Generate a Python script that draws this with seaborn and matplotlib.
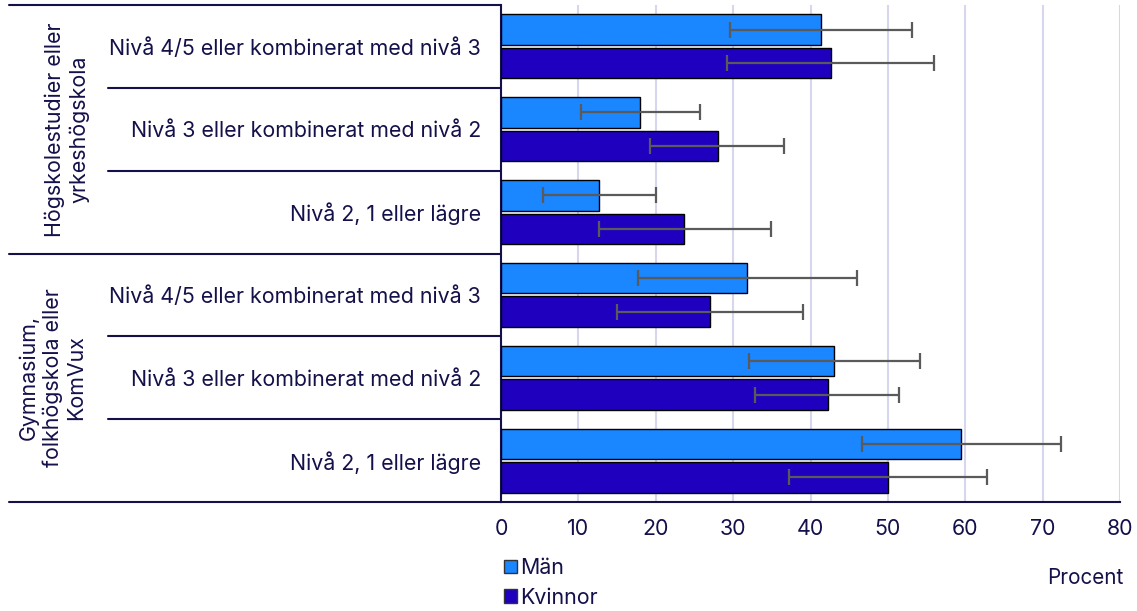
import pandas as pd
import matplotlib.pyplot as plt
import seaborn as sns
from matplotlib.patches import Patch

# Data
grupper = ["Högskolestudier eller\nyrkeshögskola", "Gymnasium,\nfolkhögskola eller\nKomVux"]
nivaer = ["Nivå 4/5 eller kombinerat med nivå 3",
          "Nivå 3 eller kombinerat med nivå 2",
          "Nivå 2, 1 eller lägre"]
kon = ["Män", "Kvinnor"]

man = [41.3, 18.0, 12.7, 31.8, 43.1, 59.4]
man_lo = [29.6, 10.3, 5.4, 17.7, 32.0, 46.7]
man_hi = [53.1, 25.7, 20.0, 46.0, 54.2, 72.4]
kvinnor = [42.6, 28.0, 23.7, 27.0, 42.2, 50.0]
kvinnor_lo = [29.2, 19.3, 12.7, 15.0, 32.8, 37.2]
kvinnor_hi = [56.0, 36.6, 34.9, 39.0, 51.4, 62.8]

xticks = [0, 10, 20, 30, 40, 50, 60, 70, 80]

colors = {"Män": "#1a86ff", "Kvinnor": "#1f00bf"}
navy = "#14104a"
grid_col = "#d6d6ef"
fs = 15.4

rows = [f"{g}|{n}" for g in grupper for n in nivaer]
df = pd.DataFrame({
    "rad": rows * 2,
    "Kön": ["Män"] * 6 + ["Kvinnor"] * 6,
    "Procent": man + kvinnor,
    "lo": man_lo + kvinnor_lo,
    "hi": man_hi + kvinnor_hi,
})

sns.set_theme(style="white")
plt.rcParams["font.family"] = ["Inter", "DejaVu Sans"]
plt.rcParams["text.color"] = navy
plt.rcParams["xtick.color"] = navy
plt.rcParams["ytick.color"] = navy

fig = plt.figure(figsize=(11.37, 6.11), dpi=100)
ax = fig.add_axes([501 / 1137, 1 - 502 / 611, 619 / 1137, 497 / 611])

sns.barplot(data=df, y="rad", x="Procent", hue="Kön", hue_order=kon, order=rows,
            palette=colors, saturation=1, orient="h", width=0.81, gap=0.09,
            edgecolor="black", linewidth=1, legend=False, ax=ax, zorder=3)

# Error bars from interval limits
for cont, k in zip(ax.containers, kon):
    sub = df[df["Kön"] == k].set_index("rad").loc[rows]
    ys = [b.get_y() + b.get_height() / 2 for b in cont]
    ax.errorbar(sub["Procent"], ys,
                xerr=[sub["Procent"] - sub["lo"], sub["hi"] - sub["Procent"]],
                fmt="none", ecolor="#5a5a5a", elinewidth=1.6, capsize=5.5,
                capthick=1.6, zorder=4)

ax.set_xlim(0, 80)
ax.set_ylim(5.5, -0.5)
ax.set_xticks(xticks)
ax.set_xticklabels([str(t) for t in xticks], fontsize=fs)
ax.tick_params(axis="x", length=5, width=1.2, pad=7, color=navy, direction="out")
ax.xaxis.grid(True, color=grid_col, linewidth=1.5, zorder=0)
ax.set_axisbelow(True)

ax.set_yticks(range(len(rows)))
ax.set_yticklabels(nivaer * 2, fontsize=fs)
ax.tick_params(axis="y", length=0, pad=14.5)
ax.set_xlabel("")
ax.set_ylabel("")

for side in ["top", "right"]:
    ax.spines[side].set_visible(False)
for side in ["left", "bottom"]:
    ax.spines[side].set_color(navy)
    ax.spines[side].set_linewidth(1.5)

# Separators in the label panel
trans = ax.get_yaxis_transform()
left_small = (108 - 501) / 619
left_big = (9 - 501) / 619
for y in [0.5, 1.5, 3.5, 4.5]:
    ax.plot([left_small, 0], [y, y], color=navy, lw=1.5, transform=trans, clip_on=False)
for y in [-0.5, 2.5, 5.5]:
    ax.plot([left_big, 0], [y, y], color=navy, lw=1.5, transform=trans, clip_on=False)

# Group labels
ax.text((89 - 501) / 619, 1, grupper[0], transform=trans, rotation=90,
        ha="right", va="center", multialignment="center", fontsize=fs)
ax.text((86 - 501) / 619, 4, grupper[1], transform=trans, rotation=90,
        ha="right", va="center", multialignment="center", fontsize=fs)

fig.text(1085 / 1137, 1 - 578 / 611, "Procent", ha="center", va="center",
         fontsize=fs - 0.5, color=navy)

handles = [Patch(facecolor=colors[k], edgecolor="#333333", linewidth=1) for k in kon]
fig.legend(handles, kon, loc="upper left", bbox_to_anchor=(504 / 1137, 1 - 558 / 611),
           frameon=False, fontsize=fs, handlelength=0.6, handleheight=0.6,
           handletextpad=0.15, labelspacing=0.45, borderaxespad=0, borderpad=0)

fig.savefig("out.png", dpi=100)
